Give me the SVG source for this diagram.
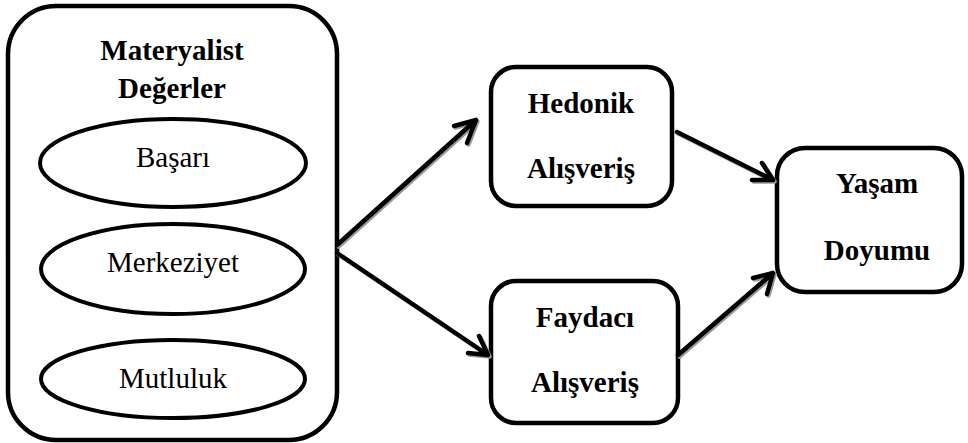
<svg xmlns="http://www.w3.org/2000/svg" width="968" height="443" viewBox="0 0 968 443">
<defs>
<style>
.box{fill:#fff;stroke:#000;stroke-width:4.5}
.ell{fill:#fff;stroke:#000;stroke-width:4}
.ln{fill:none;stroke:#000;stroke-width:4.5;stroke-linecap:round;stroke-linejoin:round}
.sh{fill:none;stroke:#9a9a9a;stroke-width:4.5;stroke-linecap:round;stroke-linejoin:round}
</style>
</defs>
<rect width="968" height="443" fill="#fff"/>
<g font-family="Liberation Serif, Times New Roman, DejaVu Serif, serif" font-size="29" text-anchor="middle" fill="#000">
<g id="materyalist">
<rect class="box" x="8" y="6" width="329" height="434" rx="48"/>
<text x="172" y="60" font-weight="bold">Materyalist</text>
<text x="172" y="98" font-weight="bold">Değerler</text>
</g>
<g id="basari">
<ellipse class="ell" cx="173" cy="163" rx="133" ry="44"/>
<text x="173" y="167">Başarı</text>
</g>
<g id="merkeziyet">
<ellipse class="ell" cx="173" cy="269" rx="132" ry="45"/>
<text x="173" y="272">Merkeziyet</text>
</g>
<g id="mutluluk">
<ellipse class="ell" cx="173" cy="379" rx="132" ry="39"/>
<text x="173" y="388">Mutluluk</text>
</g>
<g id="hedonik">
<rect class="box" x="491" y="67" width="181" height="139" rx="25"/>
<text x="581" y="113" font-weight="bold">Hedonik</text>
<text x="581" y="178" font-weight="bold">Alışveriş</text>
</g>
<g id="faydaci">
<rect class="box" x="491" y="281" width="187" height="142" rx="25"/>
<text x="585" y="327" font-weight="bold">Faydacı</text>
<text x="585" y="392" font-weight="bold">Alışveriş</text>
</g>
<g id="yasam">
<rect class="box" x="777" y="148" width="185" height="144" rx="28"/>
<text x="877" y="193" font-weight="bold">Yaşam</text>
<text x="877" y="260" font-weight="bold">Doyumu</text>
</g>
</g>
<g id="connectors">
<g transform="translate(1.5,1.5)">
<path class="sh" d="M337,245 L476,120 M454,126 L476,120 L467,143"/>
<path class="sh" d="M337,253 L488,355 M468,353 L488,355 L479,336"/>
<path class="sh" d="M677,132 L773,180 M752,180 L773,180 L762,163"/>
<path class="sh" d="M678,355 L773,273 M753,278 L773,273 L767,294"/>
</g>
<path class="ln" d="M337,245 L476,120 M454,126 L476,120 L467,143"/>
<path class="ln" d="M337,253 L488,355 M468,353 L488,355 L479,336"/>
<path class="ln" d="M677,132 L773,180 M752,180 L773,180 L762,163"/>
<path class="ln" d="M678,355 L773,273 M753,278 L773,273 L767,294"/>
</g>
</svg>
